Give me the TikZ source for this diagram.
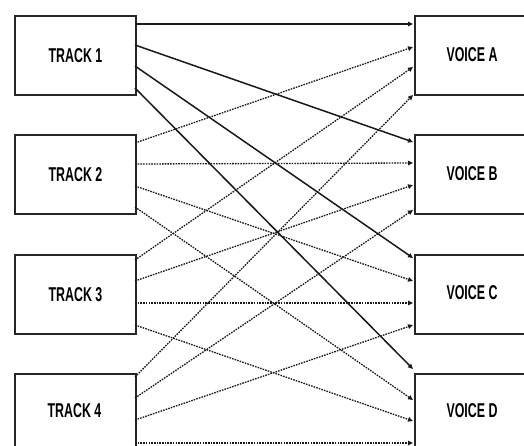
\documentclass[tikz,border=0pt]{standalone}
\usepackage{fontspec}
\newfontfamily\lblfont{Liberation Sans}[FakeStretch=0.62]
\usetikzlibrary{arrows.meta}
\tikzset{
  lbl/.style={font=\lblfont\bfseries\fontsize{20}{20}\selectfont, text=black},
  box/.style={draw=black!85, line width=1.9pt, fill=white, minimum width=121pt, minimum height=79pt, inner sep=0pt, anchor=north west, lbl},
  arr/.style={-{Triangle[length=5pt,width=4.5pt]}, black!90},
  solidlink/.style={arr, line width=1.5pt},
  dotlink/.style={arr, line width=1.3pt, dash pattern=on 1.6pt off 1.1pt}
}
\begin{document}
\begin{tikzpicture}[x=1pt,y=-1pt]
\useasboundingbox (0,0) rectangle (524,446);
\clip (0,0) rectangle (524,446);
% boxes
\node[box] (t1) at (14,15) {TRACK 1};
\node[box] (t2) at (14,134) {TRACK 2};
\node[box] (t3) at (14,254) {TRACK 3};
\node[box] (t4) at (14,373) {};
\node[lbl] (t4l) at (74.5,411) {TRACK 4};
\node[box] (va) at (414,15) {};
\node[box] (vb) at (414,134) {};
\node[box] (vc) at (414,254) {};
\node[box] (vd) at (414,373) {};
\node[lbl] (val) at (472,55) {VOICE A};
\node[lbl] (vbl) at (472,174) {VOICE B};
\node[lbl] (vcl) at (472,293) {VOICE C};
\node[lbl] (vdl) at (472,411) {VOICE D};
% ports on tracks (right edge)
\foreach \t/\a/\b/\c/\d in {t1/24/45/66/88, t2/143/164/186/207, t3/260/281/303/325, t4/377/398/420/443}{
  \coordinate (\t-1) at (135,\a);
  \coordinate (\t-2) at (135,\b);
  \coordinate (\t-3) at (135,\c);
  \coordinate (\t-4) at (135,\d);
}
% ports on voices (left edge)
\foreach \v/\a/\b/\c/\d in {va/24/47/67/95, vb/142/163/185/210, vc/258/281/303/325, vd/369/400/421/443}{
  \coordinate (\v-1) at (413,\a);
  \coordinate (\v-2) at (413,\b);
  \coordinate (\v-3) at (413,\c);
  \coordinate (\v-4) at (413,\d);
}
% track 1: solid
\draw[solidlink] (t1-1) -- (va-1);
\draw[solidlink] (t1-2) -- (vb-1);
\draw[solidlink] (t1-3) -- (vc-1);
\draw[solidlink] (t1-4) -- (vd-1);
% tracks 2-4: dotted
\draw[dotlink] (t2-1) -- (va-2);
\draw[dotlink] (t2-2) -- (vb-2);
\draw[dotlink] (t2-3) -- (vc-2);
\draw[dotlink] (t2-4) -- (vd-2);
\draw[dotlink] (t3-1) -- (va-3);
\draw[dotlink] (t3-2) -- (vb-3);
\draw[dotlink] (t3-3) -- (vc-3);
\draw[dotlink] (t3-4) -- (vd-3);
\draw[dotlink] (t4-1) -- (va-4);
\draw[dotlink] (t4-2) -- (vb-4);
\draw[dotlink] (t4-3) -- (vc-4);
\draw[dotlink] (t4-4) -- (vd-4);
\end{tikzpicture}
\end{document}
